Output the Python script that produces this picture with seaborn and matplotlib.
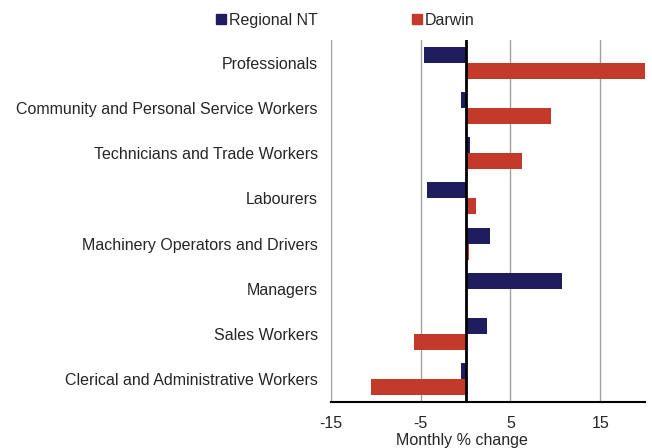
import matplotlib
matplotlib.use("Agg")
import matplotlib.pyplot as plt
from matplotlib.patches import Patch
import seaborn as sns
import pandas as pd

categories = ["Professionals", "Community and Personal Service Workers",
              "Technicians and Trade Workers", "Labourers",
              "Machinery Operators and Drivers", "Managers",
              "Sales Workers", "Clerical and Administrative Workers"]
regional_nt = [-4.6, -0.5, 0.5, -4.3, 2.7, 10.8, 2.4, -0.5]
darwin = [20.0, 9.5, 6.3, 1.2, 0.4, 0.2, -5.7, -10.5]
series = ["Regional NT", "Darwin"]
colors = ["#1F1D5E", "#C3392A"]
xticks = [-15, -5, 5, 15]

df = pd.DataFrame({
    "Occupation": categories * 2,
    "Series": [series[0]] * len(categories) + [series[1]] * len(categories),
    "Value": regional_nt + darwin,
})

sns.set_style("white")
plt.rcParams["font.family"] = ["Liberation Sans", "DejaVu Sans"]

fig = plt.figure(figsize=(6.52, 4.48), dpi=100)
ax = fig.add_axes([331 / 652, 1 - 402 / 448, 314 / 652, 362 / 448])

sns.barplot(data=df, y="Occupation", x="Value", hue="Series", order=categories,
            hue_order=series, palette=colors, orient="h", width=0.71,
            saturation=1, ax=ax, legend=False, linewidth=0)

ax.set_xlim(-15, 20)
ax.set_ylim(len(categories) - 0.5, -0.5)
ax.set_xticks(xticks)
ax.set_xticklabels([str(t) for t in xticks], fontsize=11.5)
for t in xticks:
    ax.axvline(t, color="#A0A0A0", lw=1, zorder=0)
ax.axvline(0, color="black", lw=2, zorder=3)
ax.tick_params(axis="both", length=0)
ax.tick_params(axis="x", pad=10)
ax.tick_params(axis="y", labelsize=11.5, pad=9.5)
ax.set_ylabel("")
ax.set_xlabel("Monthly % change", fontsize=11.5)
ax.xaxis.set_label_coords(0.417, -0.085)
for s in ["top", "right", "left"]:
    ax.spines[s].set_visible(False)
ax.spines["bottom"].set_color("black")
ax.spines["bottom"].set_linewidth(1.5)

handles = [Patch(color=c, label=l) for c, l in zip(colors, series)]
fig.legend(handles=handles, loc="center", bbox_to_anchor=(0.530, 0.955), ncol=2,
           frameon=False, fontsize=11.5, handlelength=0.6, handleheight=0.6,
           handletextpad=0.2, columnspacing=5.9)

fig.savefig("out.png", dpi=100)
